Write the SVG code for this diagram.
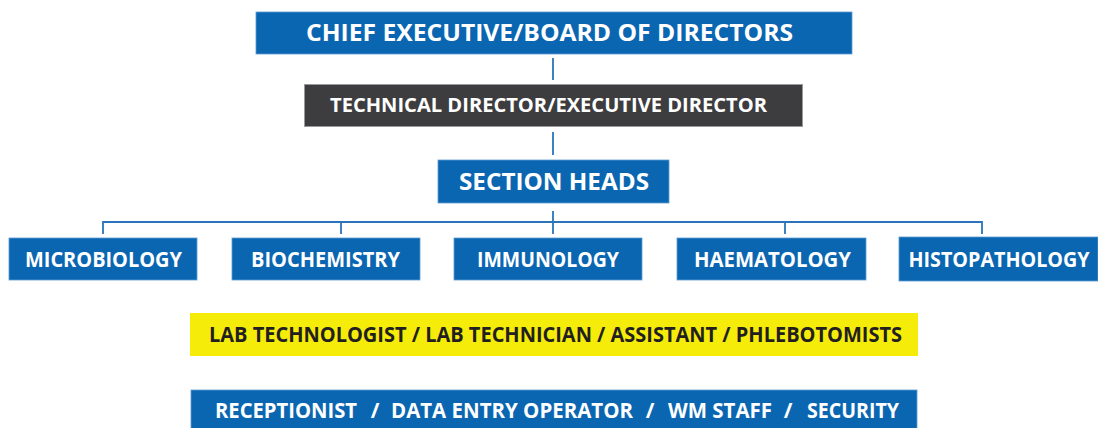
<svg xmlns="http://www.w3.org/2000/svg" width="1098" height="428" viewBox="0 0 1098 428">
  <style>
    .blue { fill: #0b66b2; stroke: #5d9bd3; stroke-width: 0.8; }
    .dark { fill: #3d3d3f; stroke: #9a9a9c; stroke-width: 1; }
    .yellow { fill: #f5ec0a; }
    .lbl { font-family: "Open Sans", "Liberation Sans", sans-serif; font-weight: 700; fill: #ffffff; text-anchor: middle; white-space: pre; }
    .lbl.ink { fill: #231f20; }
    .conn { stroke: #2a74bb; stroke-width: 1.8; fill: none; }
  </style>

  <!-- connectors -->
  <g id="connectors">
    <line class="conn" x1="553" y1="58" x2="553" y2="80"/>
    <line class="conn" x1="553" y1="132" x2="553" y2="155"/>
    <line class="conn" x1="553" y1="211" x2="553" y2="234"/>
    <polyline class="conn" points="103,234 103,222 982,222 982,234"/>
    <line class="conn" x1="341" y1="222" x2="341" y2="234"/>
    <line class="conn" x1="785" y1="222" x2="785" y2="234"/>
  </g>

  <g id="chief-executive">
    <rect class="blue" x="256" y="12" width="596" height="42"/>
    <text class="lbl" x="549.5" y="41" font-size="22.5" textLength="487" lengthAdjust="spacingAndGlyphs">CHIEF EXECUTIVE/BOARD OF DIRECTORS</text>
  </g>

  <g id="technical-director">
    <rect class="dark" x="304.5" y="84.5" width="498" height="42"/>
    <text class="lbl" x="548.5" y="112" font-size="19" textLength="437" lengthAdjust="spacingAndGlyphs">TECHNICAL DIRECTOR/EXECUTIVE DIRECTOR</text>
  </g>

  <g id="section-heads">
    <rect class="blue" x="438" y="160" width="231" height="43"/>
    <text class="lbl" x="554" y="190" font-size="23.5" textLength="190" lengthAdjust="spacingAndGlyphs">SECTION HEADS</text>
  </g>

  <g id="microbiology">
    <rect class="blue" x="9" y="238" width="188" height="42"/>
    <text class="lbl" x="103.5" y="267" font-size="21" textLength="157" lengthAdjust="spacingAndGlyphs">MICROBIOLOGY</text>
  </g>

  <g id="biochemistry">
    <rect class="blue" x="232" y="238" width="188" height="42"/>
    <text class="lbl" x="325.5" y="267" font-size="21" textLength="149" lengthAdjust="spacingAndGlyphs">BIOCHEMISTRY</text>
  </g>

  <g id="immunology">
    <rect class="blue" x="454" y="238" width="188" height="42"/>
    <text class="lbl" x="548" y="267" font-size="21" textLength="142" lengthAdjust="spacingAndGlyphs">IMMUNOLOGY</text>
  </g>

  <g id="haematology">
    <rect class="blue" x="677" y="238" width="189" height="42"/>
    <text class="lbl" x="772.5" y="267" font-size="21" textLength="157" lengthAdjust="spacingAndGlyphs">HAEMATOLOGY</text>
  </g>

  <g id="histopathology">
    <rect class="blue" x="899" y="237" width="199" height="44"/>
    <text class="lbl" x="999" y="267" font-size="20.5" textLength="181" lengthAdjust="spacingAndGlyphs">HISTOPATHOLOGY</text>
  </g>

  <g id="lab-staff">
    <rect class="yellow" x="190" y="313" width="728" height="43"/>
    <text class="lbl ink" x="555.5" y="342" font-size="21" textLength="693" lengthAdjust="spacingAndGlyphs">LAB TECHNOLOGIST / LAB TECHNICIAN / ASSISTANT / PHLEBOTOMISTS</text>
  </g>

  <g id="support-staff">
    <rect class="blue" x="191" y="390" width="726" height="42"/>
    <!-- each role and separator placed on its own so the wide gaps round the slashes hold -->
    <text class="lbl" y="418" font-size="21"><tspan x="286" textLength="142" lengthAdjust="spacingAndGlyphs">RECEPTIONIST</tspan><tspan x="375">/</tspan><tspan x="512" textLength="242" lengthAdjust="spacingAndGlyphs">DATA ENTRY OPERATOR</tspan><tspan x="650">/</tspan><tspan x="720" textLength="104" lengthAdjust="spacingAndGlyphs">WM STAFF</tspan><tspan x="788">/</tspan><tspan x="853" textLength="92" lengthAdjust="spacingAndGlyphs">SECURITY</tspan></text>
  </g>
</svg>
